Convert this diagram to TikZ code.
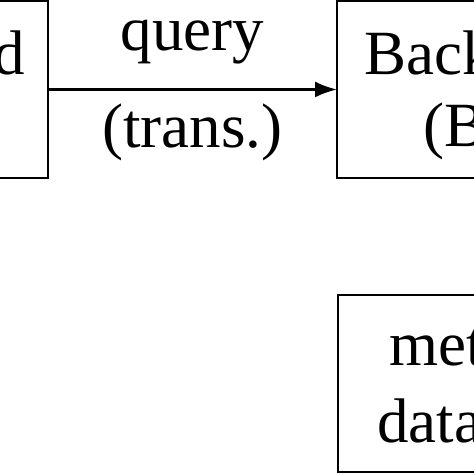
\documentclass[tikz,border=0pt]{standalone}
\usepackage{fontspec}
\setmainfont{Liberation Serif}
\usetikzlibrary{positioning,arrows.meta}
\tikzstyle{block} = [draw, rectangle, line width=0.055cm, outer sep=0pt, minimum height=3.54cm, inner sep=0pt]
\tikzstyle{line} = [draw, line width=0.05cm, -{Latex[length=0.44cm,width=0.32cm]}]
\tikzstyle{txt} = [inner sep=0pt, font=\fontsize{35.85pt}{41pt}\selectfont]

\begin{document}
\begin{tikzpicture}[x=0.02cm, y=-0.02cm]
    \useasboundingbox (0,0) rectangle (474,474);
    \clip (0,0) rectangle (474,474);

    % Place nodes
    \node [block, minimum width=6cm, anchor=north east] (frontend) at (48,1) {};
    \node [block, minimum width=6cm, anchor=north west] (backend) at (337,1) {};
    \node [block, minimum width=6cm, anchor=north west] (metadb) at (338,295) {};
    % Texts inside the boxes
    \node [txt, anchor=base east] (frontend-text) at (25,74) {d};
    \node [txt, anchor=base west] (backend-text) at (364,74) {Back};
    \node [txt, anchor=base west] (backend-abbr) at (423,146) {(BE)};
    \node [txt, anchor=base west] (metadb-text) at (389,365) {meta};
    \node [txt, anchor=base west] (metadb-data) at (377,442) {data};
    % Draw edges
    \path [line] (frontend) -- (backend)
        node [txt, midway, above=0.48cm] (query) {query}
        node [txt, midway, below=0.26cm] (trans) {(trans.)};
\end{tikzpicture}
\end{document}
